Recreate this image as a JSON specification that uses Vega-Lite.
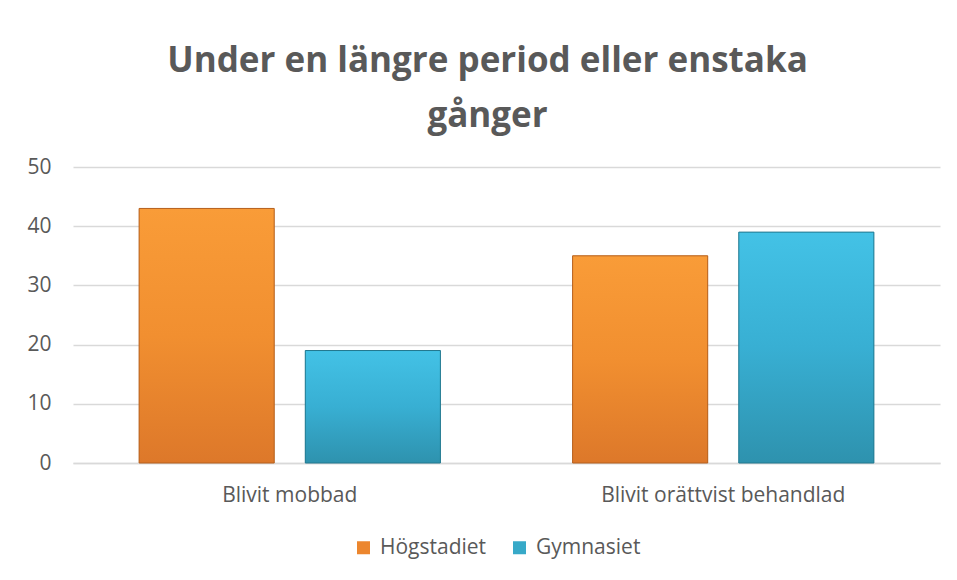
{
  "$schema": "https://vega.github.io/schema/vega-lite/v6.json",
  "width": 867,
  "height": 296,
  "autosize": {"type": "none"},
  "padding": {"left": 73, "top": 167, "right": 17, "bottom": 117},
  "background": "white",
  "config": {
    "view": {"stroke": null},
    "font": "Open Sans"
  },
  "title": {
    "text": ["Under en längre period eller enstaka", "gånger"],
    "fontSize": 35,
    "fontWeight": "bold",
    "font": "Open Sans",
    "color": "#595959",
    "anchor": "middle",
    "frame": "group",
    "dx": -19,
    "lineHeight": 55,
    "offset": 22
  },
  "data": {
    "values": [
      {"kategori": "Blivit mobbad", "skola": "Högstadiet", "varde": 43},
      {"kategori": "Blivit mobbad", "skola": "Gymnasiet", "varde": 19},
      {"kategori": "Blivit orättvist behandlad", "skola": "Högstadiet", "varde": 35},
      {"kategori": "Blivit orättvist behandlad", "skola": "Gymnasiet", "varde": 39}
    ]
  },
  "encoding": {
    "x": {
      "field": "kategori",
      "type": "nominal",
      "sort": ["Blivit mobbad", "Blivit orättvist behandlad"],
      "scale": {"paddingInner": 0.305, "paddingOuter": 0.1525},
      "axis": {
        "title": null,
        "labelAngle": 0,
        "labelFontSize": 21,
        "labelColor": "#595959",
        "labelPadding": 21,
        "labelLimit": 0,
        "ticks": false,
        "domain": true,
        "domainColor": "#D9D9D9",
        "domainWidth": 1.5
      }
    },
    "xOffset": {
      "field": "skola",
      "type": "nominal",
      "sort": ["Högstadiet", "Gymnasiet"],
      "scale": {"paddingInner": 0.187, "paddingOuter": 0}
    },
    "y": {
      "field": "varde",
      "type": "quantitative",
      "scale": {"domain": [0, 50], "nice": false},
      "axis": {
        "title": null,
        "values": [0, 10, 20, 30, 40, 50],
        "labelFontSize": 21,
        "labelColor": "#595959",
        "labelPadding": 22,
        "ticks": false,
        "domain": false,
        "grid": true,
        "gridColor": "#D9D9D9",
        "gridWidth": 1.5
      }
    }
  },
  "layer": [
    {
      "mark": {"type": "bar"},
      "encoding": {
        "color": {
          "field": "skola",
          "type": "nominal",
          "sort": ["Högstadiet", "Gymnasiet"],
          "scale": {"domain": ["Högstadiet", "Gymnasiet"], "range": ["#EC862E", "#37A9C8"]},
          "legend": {
            "title": null,
            "orient": "none",
            "direction": "horizontal",
            "legendX": 280,
            "legendY": 370,
            "symbolType": "square",
            "symbolSize": 169,
            "symbolStrokeWidth": 0,
            "labelFontSize": 21,
            "labelColor": "#595959",
            "labelOffset": 6,
            "columnPadding": 22,
            "labelLimit": 0
          }
        }
      }
    },
    {
      "mark": {"type": "bar", "strokeWidth": 1},
      "encoding": {
        "fill": {
          "condition": {
            "test": "datum.skola === 'Högstadiet'",
            "value": {
              "gradient": "linear", "x1": 0, "y1": 0, "x2": 0, "y2": 1,
              "stops": [
                {"offset": 0, "color": "#F99C38"},
                {"offset": 0.5, "color": "#F18F30"},
                {"offset": 1, "color": "#DD782A"}
              ]
            }
          },
          "value": {
            "gradient": "linear", "x1": 0, "y1": 0, "x2": 0, "y2": 1,
            "stops": [
              {"offset": 0, "color": "#43C2E6"},
              {"offset": 0.5, "color": "#38AFD3"},
              {"offset": 1, "color": "#2E92AE"}
            ]
          }
        },
        "stroke": {
          "condition": {"test": "datum.skola === 'Högstadiet'", "value": "#B5611F"},
          "value": "#22788F"
        }
      }
    }
  ]
}
